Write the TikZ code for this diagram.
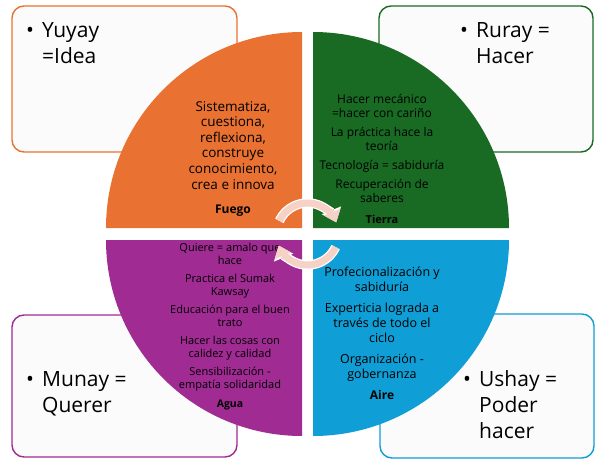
\documentclass[tikz,border=0pt]{standalone}
\usepackage{fontspec}
\setmainfont{Open Sans}
\usetikzlibrary{arrows.meta, positioning}

\definecolor{fuego}{HTML}{E97132}
\definecolor{tierra}{HTML}{196B24}
\definecolor{agua}{HTML}{A02B93}
\definecolor{aire}{HTML}{0F9ED5}
\definecolor{flecha}{HTML}{F5D2C5}
\definecolor{fondo}{HTML}{FBFBFB}

\begin{document}
\begin{tikzpicture} [
						x=1pt, y=1pt,
						box/.style={draw, fill=fondo, rounded corners=12pt, line width=1.4pt,
							inner sep=0pt, outer sep=0pt, minimum width=225pt, minimum height=146pt},
						punto/.style={anchor=north west, align=left, inner sep=0pt,
							font=\fontsize{21}{26}\selectfont},
						saber/.style={anchor=north, align=center, inner sep=0pt},
						elemento/.style={anchor=base, inner sep=0pt},
						ciclo/.style={draw=flecha, line width=7pt, -{Triangle[length=11pt,width=17pt]},
							preaction={draw=white, line width=9.5pt, -{Triangle[length=13pt,width=20pt]}}}
					]

\useasboundingbox (0,0) rectangle (595,459);

% the four boxes behind the circle
\node (yuyay) [box, draw=fuego] at (124.5,380) {};
\node (ruray) [box, draw=tierra, minimum width=214pt] at (486,380) {};
\node (munay) [box, draw=agua, minimum height=142pt] at (124.5,73) {};
\node (ushay) [box, draw=aire, minimum width=214pt, minimum height=144pt] at (487,73) {};

\node (yuyaytxt) [punto, below right=16pt and 14pt of yuyay.north west]
	{\makebox[16pt][l]{\textbullet}Yuyay\\\hspace*{16pt}=Idea};
\node (duraytxt) [punto, below right=16pt and 81pt of ruray.north west]
	{\makebox[16pt][l]{\textbullet}Ruray =\\\hspace*{16pt}Hacer};
\node (munaytxt) [punto, below right=56pt and 14pt of munay.north west]
	{\makebox[16pt][l]{\textbullet}Munay =\\\hspace*{16pt}Querer};
\node (ushaytxt) [punto, below right=56pt and 83pt of ushay.north west]
	{\makebox[16pt][l]{\textbullet}Ushay =\\\hspace*{16pt}Poder\\\hspace*{16pt}hacer};

% quarters of the circle
\fill[fuego] (302,231) -- ++(0,196) arc[start angle=90, end angle=180, radius=196] -- cycle;
\fill[tierra] (313,231) -- ++(0,196) arc[start angle=90, end angle=0, radius=196] -- cycle;
\fill[agua] (302,219) -- ++(0,-196) arc[start angle=270, end angle=180, radius=196] -- cycle;
\fill[aire] (313,219) -- ++(0,-196) arc[start angle=270, end angle=360, radius=196] -- cycle;

\node (fuegotxt) [saber, font=\fontsize{13.5}{15.6}\selectfont] at (233,358)
	{Sistematiza,\\cuestiona,\\reflexiona,\\construye\\conocimiento,\\crea e innova};
\node (fuego) [elemento, font=\bfseries\fontsize{12}{14}\selectfont] at (233,246) {Fuego};

\node (tierratxt) [saber, font=\fontsize{12}{14}\selectfont] at (382,364.5)
	{Hacer mecánico\\=hacer con cariño\\[5pt]La práctica hace la\\teoría\\[5pt]
	 Tecnología = sabiduría\\[5pt]Recuperación de\\saberes};
\node (tierra) [elemento, font=\bfseries\fontsize{11}{13}\selectfont] at (382,236) {Tierra};

\node (aguatxt) [saber, font=\fontsize{11}{13}\selectfont] at (230,216)
	{Quiere = amalo que\\hace\\[5pt]Practica el Sumak\\Kawsay\\[5pt]Educación para el buen\\trato\\[5pt]
	 Hacer las cosas con\\calidez y calidad\\[5pt]Sensibilización -\\empatía solidaridad};
\node (agua) [elemento, font=\bfseries\fontsize{10.5}{12}\selectfont] at (230,52) {Agua};

\node (airetxt) [saber, font=\fontsize{12.5}{15}\selectfont] at (382,192)
	{Profecionalización y\\sabiduría\\[6pt]Experticia lograda a\\través de todo el\\ciclo\\[6pt]
	 Organización -\\gobernanza};
\node (aire) [elemento, font=\bfseries\fontsize{12}{14}\selectfont] at (382,60) {Aire};

% the two turning arrows in the middle
\coordinate (centro) at (307.5,225);
\draw[ciclo] ([shift={(155:31)}]centro) arc[start angle=155, end angle=22, radius=31];
\draw[ciclo] ([shift={(-25:31)}]centro) arc[start angle=-25, end angle=-158, radius=31];
\end{tikzpicture}
\end{document}
